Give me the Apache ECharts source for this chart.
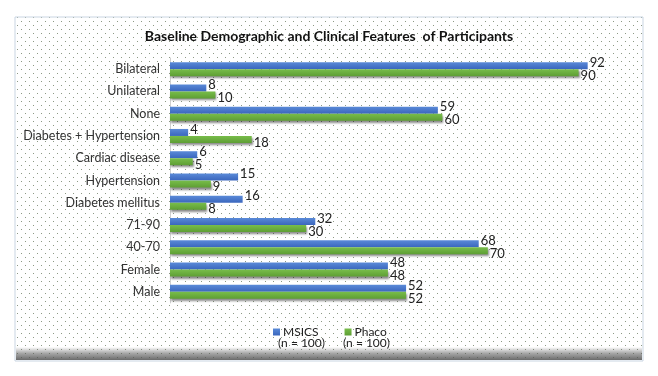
<!DOCTYPE html>
<html>
<head>
<meta charset="utf-8">
<script src="https://cdn.jsdelivr.net/npm/echarts@6/dist/echarts.min.js"></script>
<style>
  html, body { margin: 0; padding: 0; background: #fff; }
  #chart { width: 658px; height: 376px; }
</style>
</head>
<body>
<div id="chart"></div>
<script>
// categories, bottom to top as the axis draws them
const categories = ["Male", "Female", "40-70", "71-90", "Diabetes mellitus", "Hypertension",
  "Cardiac disease", "Diabetes + Hypertension", "None", "Unilateral", "Bilateral"];
const msics = [52, 48, 68, 32, 16, 15, 6, 4, 59, 8, 92];
const phaco = [52, 48, 70, 30, 8, 9, 5, 18, 60, 10, 90];
const xTicks = [0, 100];

const FONT = "Lato";

// dotted paper fill
const tile = document.createElement("canvas");
tile.width = 8;
tile.height = 8;
const tctx = tile.getContext("2d");
tctx.fillStyle = "#fff";
tctx.fillRect(0, 0, 8, 8);
tctx.fillStyle = "#8d9985";
tctx.fillRect(1, 1, 1, 1);
tctx.fillRect(5, 5, 1, 1);

const chart = echarts.init(document.getElementById("chart"));

const labelStyle = (dy) => ({
  show: true,
  position: "right",
  distance: 2,
  offset: [0, dy],
  fontFamily: FONT,
  fontSize: 13,
  color: "#222",
});

const option = {
  backgroundColor: "#fff",
  animation: false,
  textStyle: { fontFamily: FONT },
  title: {
    text: "Baseline Demographic and Clinical Features  of Participants",
    left: "center",
    top: 24,
    textStyle: { fontFamily: FONT, fontSize: 14, fontWeight: "bold", color: "#111" },
  },
  graphic: [
    {
      type: "rect",
      shape: { x: 15, y: 17, width: 628, height: 344 },
      style: { fill: { image: tile, repeat: "repeat" }, stroke: "#c9d5e2", lineWidth: 1 },
      z: -10,
    },
    {
      type: "rect",
      shape: { x: 16, y: 347, width: 626, height: 13 },
      style: {
        fill: new echarts.graphic.LinearGradient(0, 0, 0, 1, [
          { offset: 0, color: "rgba(90,90,90,0)" },
          { offset: 0.5, color: "rgba(90,90,90,0.55)" },
          { offset: 1, color: "rgba(80,80,80,0.85)" },
        ]),
      },
      z: -9,
    },
    {
      type: "text",
      left: 278,
      top: 337,
      style: { text: "(n = 100)", fontFamily: FONT, fontSize: 12, fill: "#222" },
    },
    {
      type: "text",
      left: 343,
      top: 337,
      style: { text: "(n = 100)", fontFamily: FONT, fontSize: 12, fill: "#222" },
    },
  ],
  legend: {
    data: ["MSICS", "Phaco"],
    left: 268,
    top: 321,
    itemWidth: 7,
    itemHeight: 7,
    itemGap: 26,
    icon: "rect",
    textStyle: { fontFamily: FONT, fontSize: 12, color: "#222", padding: [0, 0, 0, -2] },
  },
  grid: { left: 170, top: 58, width: 454, height: 245 },
  xAxis: {
    type: "value",
    min: xTicks[0],
    max: xTicks[1],
    show: false,
  },
  yAxis: {
    type: "category",
    data: categories,
    axisLine: { show: true, lineStyle: { color: "#d0d0d0" } },
    axisTick: { show: false },
    axisLabel: { fontFamily: FONT, fontSize: 12.5, color: "#333", margin: 10 },
  },
  series: [
    {
      name: "MSICS",
      type: "bar",
      data: msics,
      barWidth: 7,
      barGap: "0%",
      itemStyle: {
        color: new echarts.graphic.LinearGradient(0, 0, 0, 1, [
          { offset: 0, color: "#5a8ad8" },
          { offset: 1, color: "#3a66bd" },
        ]),
      },
      label: labelStyle(-3),
    },
    {
      name: "Phaco",
      type: "bar",
      data: phaco,
      barWidth: 7,
      barGap: "0%",
      itemStyle: {
        color: new echarts.graphic.LinearGradient(0, 0, 0, 1, [
          { offset: 0, color: "#78bd4a" },
          { offset: 1, color: "#5e9e34" },
        ]),
        shadowColor: "rgba(0,0,0,0.45)",
        shadowBlur: 2,
        shadowOffsetY: 2,
        shadowOffsetX: 1,
      },
      label: labelStyle(3),
    },
  ],
};

chart.setOption(option);
</script>
</body>
</html>
